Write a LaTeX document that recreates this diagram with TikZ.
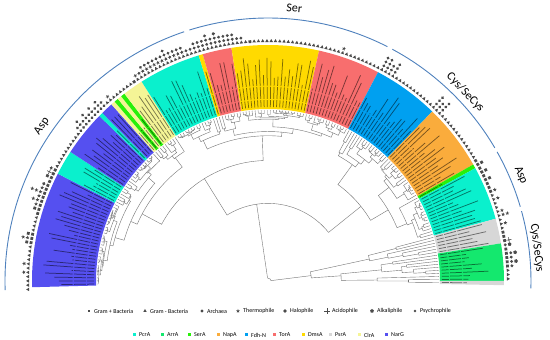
\documentclass[tikz,border=0pt]{standalone}
\usepackage{fontspec}
\setmainfont{Carlito}
\usetikzlibrary{shapes.geometric,shapes.misc}
\definecolor{narg}{RGB}{85,80,240}
\definecolor{pcra}{RGB}{10,240,205}
\definecolor{arra}{RGB}{20,232,110}
\definecolor{sera}{RGB}{40,240,10}
\definecolor{napa}{RGB}{250,172,60}
\definecolor{fdhn}{RGB}{0,160,240}
\definecolor{tora}{RGB}{248,110,110}
\definecolor{dmsa}{RGB}{255,218,0}
\definecolor{psra}{RGB}{215,215,215}
\definecolor{clra}{RGB}{245,245,150}
\definecolor{symc}{RGB}{75,75,75}
\definecolor{arcc}{RGB}{79,129,189}
\def\Astart{181}
\def\Astep{1.0197}
\def\Rleaf{171}
\def\Rin{172}
\def\Rout{236}
% forced top-level splits of the tree
\expandafter\def\csname fs0-178\endcsname{162}
\expandafter\def\csname fs0-162\endcsname{116}
\expandafter\def\csname fs117-162\endcsname{132}
\expandafter\def\csname fs133-162\endcsname{148}
\expandafter\def\csname fs149-162\endcsname{149}
\expandafter\def\csname fs0-116\endcsname{57}
\expandafter\def\csname fs58-116\endcsname{72}
\expandafter\def\csname fs73-116\endcsname{80}
\expandafter\def\csname fs81-116\endcsname{101}
\expandafter\def\csname fs0-57\endcsname{48}
\expandafter\def\csname fs0-48\endcsname{33}
\expandafter\def\csname fs0-33\endcsname{27}
\expandafter\def\csname fs163-178\endcsname{168}
\newcommand\phytree[3]{%
  \begingroup
  \ifnum#1=#2\relax
    \pgfmathsetmacro\ang{\Astart-#1*\Astep}%
    \draw[tl] (\ang:#3pt) -- (\ang:\Rleaf pt);%
    \let\ptnext\empty
  \else
    \ifcsname fs#1-#2\endcsname
      \edef\spl{\csname fs#1-#2\endcsname}%
    \else
      \pgfmathtruncatemacro\spl{#1+floor((#2-#1)*(0.05+0.9*rnd))}%
    \fi
    \pgfmathtruncatemacro\spn{\spl+1}%
    \ifnum#1=\spl\relax\edef\rA{#3}\else\pgfmathsetmacro\rA{#3+(\Rleaf-#3)*(0.1+0.4*rnd)}\fi
    \ifnum\spn=#2\relax\edef\rB{#3}\else\pgfmathsetmacro\rB{#3+(\Rleaf-#3)*(0.1+0.4*rnd)}\fi
    \pgfmathsetmacro\aA{\Astart-(#1+\spl)/2*\Astep}%
    \pgfmathsetmacro\aB{\Astart-(\spn+#2)/2*\Astep}%
    \draw[tl] (\aA:\rA pt) -- (\aA:#3pt) arc[start angle=\aA, end angle=\aB, radius=#3pt] -- (\aB:\rB pt);%
    \edef\ptnext{\noexpand\phytree{#1}{\spl}{\rA}\noexpand\phytree{\spn}{#2}{\rB}}%
  \fi
  \expandafter\endgroup\ptnext}
\newcommand\bandsec[3]{%
  \pgfmathsetmacro\sa{\Astart-(#1-0.5)*\Astep}%
  \pgfmathsetmacro\sb{\Astart-(#2+0.5)*\Astep}%
  \fill[#3] (\sa:\Rin pt) -- (\sa:\Rout pt) arc[start angle=\sa, end angle=\sb, radius=\Rout pt] -- (\sb:\Rin pt) arc[start angle=\sb, end angle=\sa, radius=\Rin pt] -- cycle;}
\newcommand\drawsym[1]{\path (\ang:\symr pt) node[rotate=\ang, sym#1] {};}
\def\symloop#1{\ifx#1\relax\else\drawsym{#1}\pgfmathsetmacro\symr{\symr+4.4}\expandafter\symloop\fi}
\begin{document}
\begin{tikzpicture}[
  tl/.style={draw=black!55, line width=0.4pt},
  labstroke/.style={draw=black, opacity=0.5, line width=0.75pt, dash pattern=on 7pt off 1.2pt on 12pt off 1.2pt on 40pt},
  symbase/.style={fill=symc, draw=none, inner sep=0pt, outer sep=0pt},
  symt/.style={symbase, regular polygon, regular polygon sides=3, minimum size=4pt, rotate=-90},
  syms/.style={symbase, rectangle, minimum size=2.8pt},
  syma/.style={symbase, circle, minimum size=3.2pt},
  symx/.style={symbase, star, star points=5, star point ratio=2.3, minimum size=4pt, rotate=-90},
  symh/.style={symbase, diamond, minimum size=3.6pt},
  symp/.style={draw=symc, line width=0.6pt, cross out, minimum size=3pt, inner sep=0pt, rotate=45},
  symk/.style={symbase, regular polygon, regular polygon sides=5, minimum size=4pt, rotate=-90},
  symy/.style={symbase, diamond, minimum size=2.6pt},
  arcl/.style={draw=arcc, line width=0.9pt},
  big/.style={font=\fontsize{12}{14}\selectfont, inner sep=0pt},
  leg/.style={font=\fontsize{6}{7}\selectfont, anchor=west, inner sep=0pt},
  legbox/.style={rectangle, minimum size=3pt, inner sep=0pt},
]
\useasboundingbox (-268pt,-59pt) rectangle (282pt,281pt);
\pgfmathsetseed{12}
% coloured bands
\bandsec{0}{27}{narg}
\bandsec{28}{33}{pcra}
\bandsec{34}{44}{narg}
\bandsec{45}{45}{pcra}
\bandsec{46}{48}{narg}
\bandsec{49}{49}{clra}
\bandsec{50}{50}{sera}
\bandsec{51}{51}{clra}
\bandsec{52}{52}{sera}
\bandsec{53}{57}{clra}
\bandsec{58}{72}{pcra}
\bandsec{73}{73}{dmsa}
\bandsec{74}{80}{tora}
\bandsec{81}{101}{dmsa}
\bandsec{102}{116}{tora}
\bandsec{117}{132}{fdhn}
\bandsec{133}{148}{napa}
\bandsec{149}{149}{sera}
\bandsec{150}{162}{pcra}
\bandsec{163}{168}{psra}
\bandsec{169}{177}{arra}
\bandsec{178}{178}{psra}
% leaf labels (illegible small print)
\foreach \i in {0,...,178}{%
  \pgfmathsetmacro\ang{\Astart-\i*\Astep}%
  \pgfmathsetmacro\re{\Rin+24+30*rnd}%
  \draw[labstroke] (\ang:174pt) -- (\ang:\re pt);}
% tree
\phytree{0}{178}{3}
% trait symbols
\foreach \c [count=\i from 0] in {%
t,t,t,t,tx,t,tx,t,t,t,t,%
ss,sxx,ss,t,t,t,t,s,ss,sx,sxx,sx,sxxx,sx,sh,s,ss,%
sp,sx,t,t,t,t,t,t,t,t,t,t,%
aa,aaa,aa,aaa,aa,aaa,aa,aaa,aa,%
t,tx,t,t,t,t,t,t,s,%
tx,tx,txa,txa,txa,txa,txa,txa,txaa,txa,txa,txa,txa,ta,ta,%
taa,taa,taa,taaa,taa,taah,taa,taa,taa,taa,ta,ta,t,s,%
t,t,t,t,t,t,t,t,t,t,t,t,t,t,t,t,t,t,t,t,t,%
tx,%
t,t,t,t,t,t,t,t,t,%
taaa,taaa,taa,taaa,%
t,t,t,t,t,t,t,t,t,t,t,%
taaa,taa,taaa,%
t,t,t,t,t,t,t,t,t,t,t,t,t,%
s,ss,s,ss,s,ss,s,s,sx,%
t,tx,t,t,tx,txx,t,tx,t,%
s,s,sp,ak,s,sak,sa,sak,sa,t,t,t}{%
  \pgfmathsetmacro\ang{\Astart-(\i-1)*\Astep}%
  \def\symr{240}%
  \expandafter\symloop\c\relax}
% outer arcs
\draw[arcl] (182:263pt) arc[start angle=182, end angle=108.6, radius=263pt];
\draw[arcl] (107.4:263pt) arc[start angle=107.4, end angle=63, radius=263pt];
\draw[arcl] (61.8:263pt) arc[start angle=61.8, end angle=30.4, radius=263pt];
\draw[arcl] (29.4:263pt) arc[start angle=29.4, end angle=16.4, radius=263pt];
\draw[arcl] (15.4:263pt) arc[start angle=15.4, end angle=-1.6, radius=263pt];
\node[big, rotate=55.6] (asp1) at (145.6:274pt) {Asp};
\node[big, rotate=-5.5] (ser) at (84.5:274pt) {Ser};
\node[big, rotate=-46.3] (cys1) at (43.7:273pt) {Cys/SeCys};
\node[big, rotate=-67.3] (asp2) at (22.7:274pt) {Asp};
\node[big, rotate=-83] (cys2) at (7:271pt) {Cys/SeCys};
% legend row 1
\def\ang{90}
\foreach \x/\s/\t [count=\k] in {-179/s/Gram + Bacteria,-123/t/Gram - Bacteria,-66/a/Archaea,-30/x/Thermophile,17/h/Halophile,59/p/Acidophile,104/k/Alkaliphile,147/y/Psychrophile}{%
  \path (\x pt,-30pt) node[rotate=90, sym\s] (ls\k) {};
  \node[leg] (lt\k) at (\x pt+5pt,-30pt) {\t};}
% legend row 2
\foreach \x/\cl/\t [count=\k] in {-133/pcra/PcrA,-105/arra/ArrA,-78/sera/SerA,-49/napa/NapA,-21/fdhn/Fdh-N,7/tora/TorA,36/dmsa/DmsA,63/psra/PsrA,92/clra/ClrA,119/narg/NarG}{%
  \node[legbox, fill=\cl] (cb\k) at (\x pt,-54pt) {};
  \node[leg] (ct\k) at (\x pt+4pt,-54pt) {\t};}
\end{tikzpicture}
\end{document}
